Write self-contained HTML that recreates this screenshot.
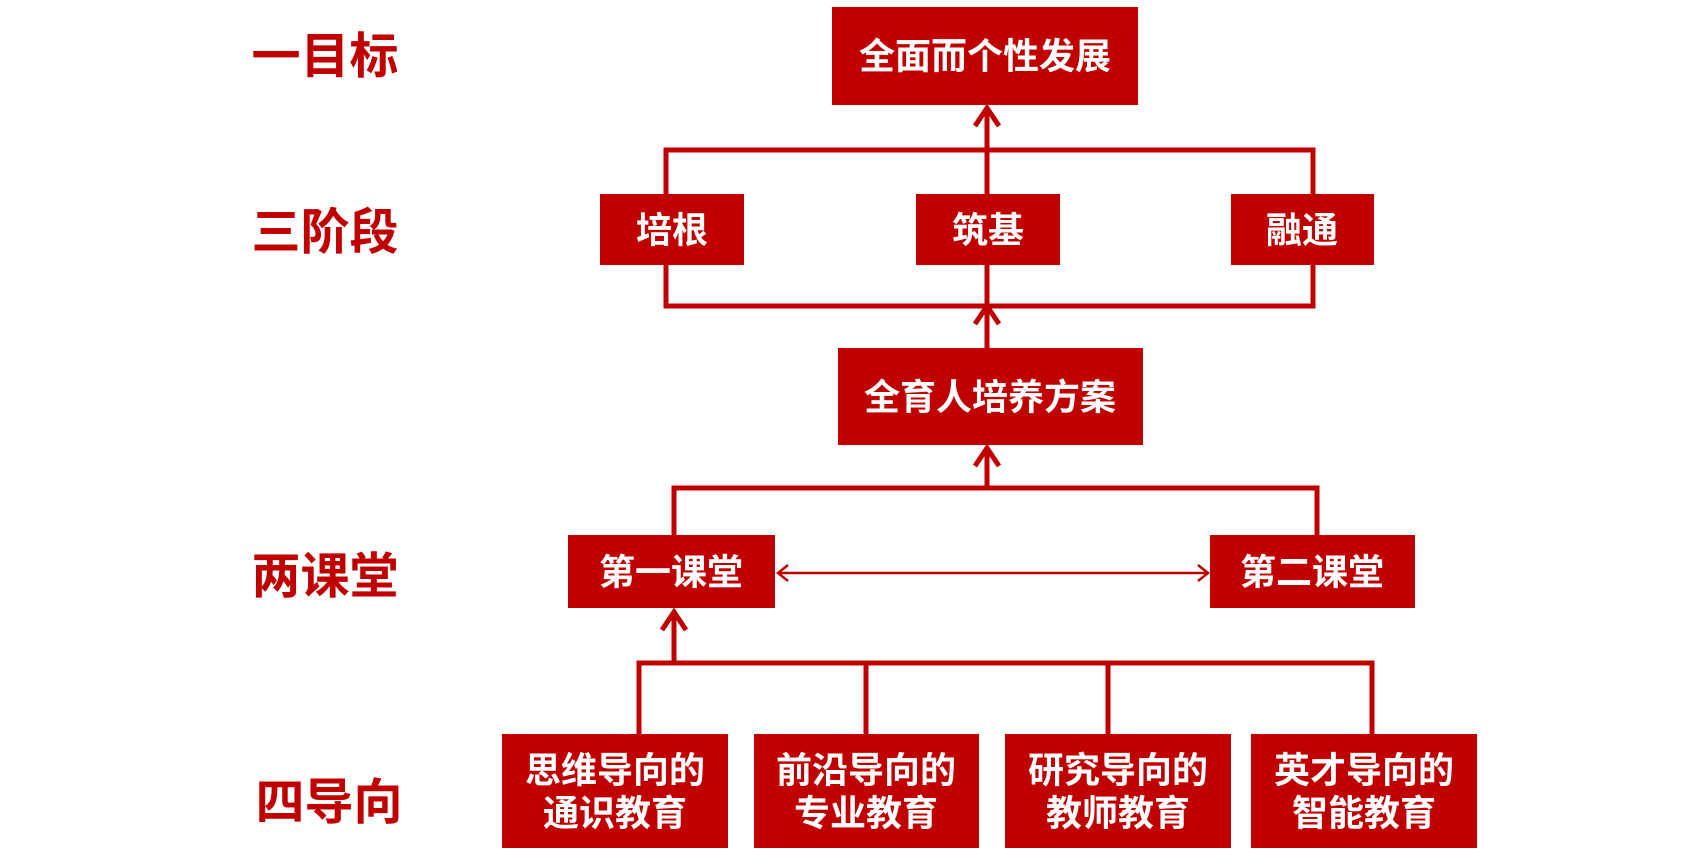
<!DOCTYPE html>
<html><head><meta charset="utf-8"><style>
html,body{margin:0;padding:0;background:#fff;}
svg{display:block;}
text{font-family:"Liberation Sans","Noto Sans CJK SC",sans-serif;font-weight:bold;}
</style></head><body>
<svg width="1687" height="854" viewBox="0 0 1687 854" xmlns="http://www.w3.org/2000/svg">
<g fill="#c00000" font-size="49" text-anchor="middle" dominant-baseline="central">
<text x="325" y="57">一目标</text>
<text x="325" y="233">三阶段</text>
<text x="325" y="577">两课堂</text>
<text x="329" y="803">四导向</text>
</g>
<g stroke="#c00000" stroke-width="5" fill="none">
<polyline points="666,194 666,150 1313,150 1313,194"/>
<polyline points="666,265 666,306 1313,306 1313,265"/>
<line x1="987" y1="108" x2="987" y2="348"/>
<polyline points="975,126 987,108 999,126"/>
<polyline points="975,324 987,306 999,324"/>
<polyline points="674,537 674,488 1317,488 1317,537"/>
<line x1="987" y1="448" x2="987" y2="488"/>
<polyline points="975,466 987,448 999,466"/>
<line x1="674" y1="612" x2="674" y2="663"/>
<polyline points="662,630 674,612 686,630"/>
<polyline points="639,735 639,663 1372,663 1372,735"/>
<line x1="866" y1="663" x2="866" y2="735"/>
<line x1="1108" y1="663" x2="1108" y2="735"/>
</g>
<g stroke="#c00000" stroke-width="2.5" fill="none">
<line x1="778" y1="573" x2="1208" y2="573"/>
<polyline points="788,565 778,573 788,581"/>
<polyline points="1198,565 1208,573 1198,581"/>
</g>
<g fill="#c00000">
<rect x="832" y="7" width="306" height="98"/>
<rect x="600" y="194" width="144" height="71"/>
<rect x="916" y="194" width="144" height="71"/>
<rect x="1231" y="194" width="143" height="71"/>
<rect x="838" y="348" width="305" height="97"/>
<rect x="568" y="535" width="207" height="73"/>
<rect x="1210" y="535" width="205" height="73"/>
<rect x="502" y="734" width="226" height="114"/>
<rect x="754" y="734" width="225" height="114"/>
<rect x="1005" y="734" width="226" height="114"/>
<rect x="1251" y="734" width="226" height="114"/>
</g>
<g fill="#fff" font-size="36" text-anchor="middle" dominant-baseline="central">
<text x="985" y="56">全面而个性发展</text>
<text x="672" y="230">培根</text>
<text x="988" y="230">筑基</text>
<text x="1302" y="230">融通</text>
<text x="990" y="397">全育人培养方案</text>
<text x="671" y="572">第一课堂</text>
<text x="1312" y="572">第二课堂</text>
<text x="615" y="770">思维导向的</text><text x="615" y="813">通识教育</text>
<text x="866" y="770">前沿导向的</text><text x="866" y="813">专业教育</text>
<text x="1118" y="770">研究导向的</text><text x="1118" y="813">教师教育</text>
<text x="1364" y="770">英才导向的</text><text x="1364" y="813">智能教育</text>
</g>
</svg>
</body></html>
